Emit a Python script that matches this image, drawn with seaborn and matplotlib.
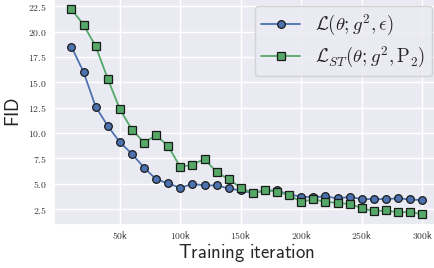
import numpy as np
import pandas as pd
import matplotlib
matplotlib.use('Agg')
import matplotlib.pyplot as plt
import seaborn as sns

# training iterations (in thousands)
iters = [10, 20, 30, 40, 50, 60, 70, 80, 90, 100,
         110, 120, 130, 140, 150, 160, 170, 180, 190, 200,
         210, 220, 230, 240, 250, 260, 270, 280, 290, 300]

# FID for L(theta; g^2, eps)
fid_base = [18.5, 16.0, 12.6, 10.7, 9.1, 7.95, 6.6, 5.45, 5.05, 4.6,
            5.0, 4.85, 4.85, 4.55, 4.35, 4.1, 4.35, 4.35, 3.95, 3.75,
            3.66, 3.78, 3.56, 3.72, 3.5, 3.5, 3.5, 3.58, 3.46, 3.4]

# FID for L_ST(theta; g^2, P_2)
fid_st = [22.2, 20.65, 18.55, 15.35, 12.35, 10.35, 9.05, 9.8, 8.7, 6.65,
          6.9, 7.45, 6.15, 5.44, 4.63, 4.06, 4.38, 4.22, 3.89, 3.23,
          3.48, 3.23, 3.13, 3.0, 2.63, 2.3, 2.4, 2.18, 2.24, 2.0]

label_base = r'$\mathcal{L}(\theta; g^2, \epsilon)$'
label_st = r'$\mathcal{L}_{ST}(\theta; g^2, \mathrm{P}_2)$'

xtick_vals = [50, 100, 150, 200, 250, 300]
xtick_labels = ['50k', '100k', '150k', '200k', '250k', '300k']
ytick_vals = [2.5, 5.0, 7.5, 10.0, 12.5, 15.0, 17.5, 20.0, 22.5]

sns.set_theme(style='darkgrid')
plt.rcParams['mathtext.fontset'] = 'cm'

df = pd.DataFrame({'iter': iters, 'base': fid_base, 'st': fid_st})

fig = plt.figure(figsize=(4.35, 2.68), dpi=100)
ax = fig.add_axes([0.124, 0.162, 0.887, 0.842])

blue, green = sns.color_palette('deep')[0], sns.color_palette('deep')[2]

sns.lineplot(data=df, x='iter', y='base', ax=ax, color=blue, marker='o',
             markersize=5.5, markeredgecolor='#1a1a1a', markeredgewidth=0.9,
             linewidth=1.3, label=label_base)
sns.lineplot(data=df, x='iter', y='st', ax=ax, color=green, marker='s',
             markersize=5.5, markeredgecolor='#1a1a1a', markeredgewidth=0.9,
             linewidth=1.3, label=label_st)

ax.set_xticks(xtick_vals)
ax.set_xticklabels([r'$\mathsf{' + t + '}$' for t in xtick_labels], fontsize=7)
ax.set_yticks(ytick_vals)
ax.set_yticklabels([f'${v}$' for v in ytick_vals], fontsize=7)
ax.tick_params(axis='both', length=0, colors='#333333')
ax.tick_params(axis='x', pad=3)
ax.tick_params(axis='y', pad=5)

ax.set_xlabel(r'$\mathsf{Training\ iteration}$', fontsize=13.5, color='#262626', labelpad=1)
ax.set_ylabel(r'$\mathsf{FID}$', fontsize=13.5, color='#262626', labelpad=4)

ax.legend(loc='upper right', fontsize=13.5, handlelength=2.1, borderaxespad=0.4,
          labelspacing=0.35, borderpad=0.35, handletextpad=0.8)

fig.savefig('out.png', dpi=100)
